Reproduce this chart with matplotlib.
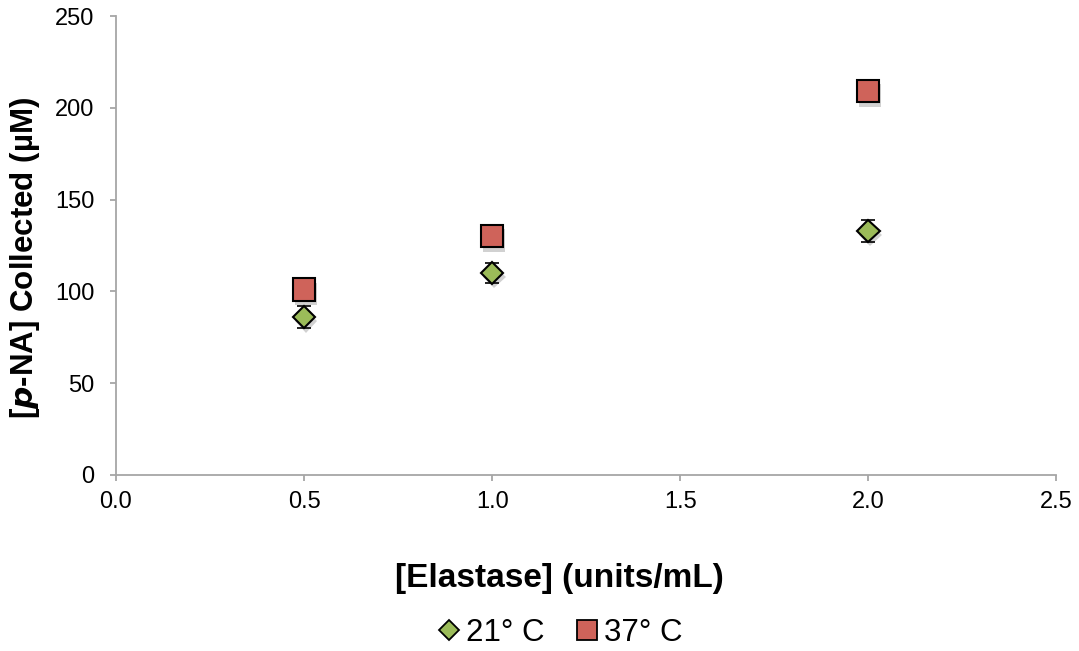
import matplotlib
matplotlib.use("Agg")
import matplotlib.pyplot as plt
import matplotlib.patheffects as pe
from matplotlib.lines import Line2D

# Data
elastase = [0.5, 1.0, 2.0]
pna_21c = [86, 110, 133]
err_21c = [6, 5.5, 6]
pna_37c = [101, 130, 209]
err_37c = [4, 4, 6]
series_labels = ["21° C", "37° C"]
x_ticks = [0.0, 0.5, 1.0, 1.5, 2.0, 2.5]
y_ticks = [0, 50, 100, 150, 200, 250]

plt.rcParams["font.family"] = ["Liberation Sans", "DejaVu Sans"]

green = "#9BBB59"
red = "#CF635A"
axis_grey = "#A6A6A6"

fig = plt.figure(figsize=(10.79, 6.51), dpi=100)
ax = fig.add_axes([0.1075, 0.2704, 0.8715, 0.705])

shadow = [pe.SimplePatchShadow(offset=(1.5, -3), shadow_rgbFace="#000000", alpha=0.18),
          pe.Normal()]

for xs, ys, es, marker, ms, face in [
    (elastase, pna_21c, err_21c, "D", 11.5, green),
    (elastase, pna_37c, err_37c, "s", 16, red),
]:
    ax.errorbar(xs, ys, yerr=es, fmt="none", ecolor="black", elinewidth=1.2,
                capsize=5, capthick=1.2, zorder=2)
    ax.plot(xs, ys, linestyle="none", marker=marker, markersize=ms,
            markerfacecolor=face, markeredgecolor="black", markeredgewidth=1.5,
            zorder=3, path_effects=shadow)

ax.set_xlim(0, 2.5)
ax.set_ylim(0, 250)
ax.set_xticks(x_ticks)
ax.set_xticklabels([f"{t:.1f}" for t in x_ticks])
ax.set_yticks(y_ticks)
ax.set_yticklabels([str(t) for t in y_ticks])

for side in ["top", "right"]:
    ax.spines[side].set_visible(False)
for side in ["left", "bottom"]:
    ax.spines[side].set_color(axis_grey)
    ax.spines[side].set_linewidth(1.3)
ax.tick_params(axis="both", direction="out", length=4.3, width=1.3, color=axis_grey,
               labelsize=17, labelcolor="black")
ax.tick_params(axis="x", pad=7)
ax.tick_params(axis="y", pad=11)

ax.set_xlabel("[Elastase] (units/mL)", fontsize=24, fontweight="bold")
ax.set_ylabel("[$\\boldsymbol{p}$-NA] Collected (µM)", fontsize=22.5, fontweight="bold")
ax.xaxis.set_label_coords(0.472, -0.192)
ax.yaxis.set_label_coords(-0.079, 0.473)

handles = [
    Line2D([], [], linestyle="none", marker="D", markersize=10,
           markerfacecolor=green, markeredgecolor="black", markeredgewidth=1.3),
    Line2D([], [], linestyle="none", marker="s", markersize=14,
           markerfacecolor=red, markeredgecolor="black", markeredgewidth=1.3),
]
fig.legend(handles, series_labels, loc="center", bbox_to_anchor=(0.519, 0.028),
           ncol=2, frameon=False, fontsize=22.5, handlelength=0.7,
           handletextpad=0.2, columnspacing=1.0)

fig.savefig("out.png", dpi=100)
